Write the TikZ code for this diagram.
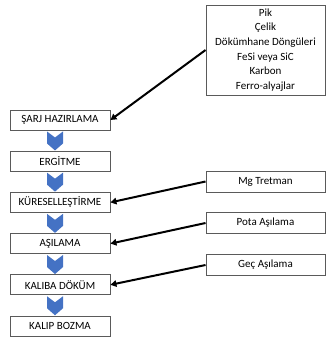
\documentclass[tikz,border=0pt]{standalone}
\usepackage{fontspec}
\setmainfont{Carlito}
\usetikzlibrary{arrows.meta,calc}
\definecolor{chevblue}{HTML}{4472C4}
\definecolor{boxline}{HTML}{5A5A5A}
\begin{document}
\begin{tikzpicture}[x=1pt,y=-1pt,
  stepbox/.style={draw=boxline, line width=0.9pt, minimum width=100pt, minimum height=20pt, inner sep=0pt, font=\fontsize{11}{12}\selectfont},
  inbox/.style={draw=boxline, line width=0.9pt, minimum width=119pt, minimum height=21pt, inner sep=0pt, font=\fontsize{11}{12}\selectfont},
  feed/.style={draw=black, line width=2pt, -{Triangle[length=6pt,width=6.5pt]}},
  chev/.pic={\fill[chevblue] (-8,0) -- (0,6) -- (8,0) -- (8,12) -- (0,19) -- (-8,12) -- cycle;}
]
\useasboundingbox (0,0) rectangle (326,338);
% process steps
\node[stepbox] (s1) at (60,120) {ŞARJ HAZIRLAMA};
\node[stepbox] (s2) at (60,161.2) {ERGİTME};
\node[stepbox] (s3) at (60,202.4) {KÜRESELLEŞTİRME};
\node[stepbox] (s4) at (60,243.6) {AŞILAMA};
\node[stepbox] (s5) at (60,284.8) {KALIBA DÖKÜM};
\node[stepbox] (s6) at (60,326) {KALIP BOZMA};
% chevrons
\foreach \a in {s1,s2,s3,s4,s5}{
  \path ($(\a.south)+(-5,1)$) pic {chev};
}
% inputs
\node[inbox, minimum height=90pt, align=center, font=\fontsize{11}{14.6}\selectfont] (in1) at (265.5,50)
  {Pik\\Çelik\\Dökümhane Döngüleri\\FeSi veya SiC\\Karbon\\Ferro-alyajlar};
\node[inbox] (in2) at (265.5,181.5) {Mg Tretman};
\node[inbox] (in3) at (265.5,223) {Pota Aşılama};
\node[inbox] (in4) at (265.5,265) {Geç Aşılama};
% feed arrows
\draw[feed] (in1.west) -- (s1.east);
\draw[feed] (in2.west) -- (s3.east);
\draw[feed] (in3.west) -- (s4.east);
\draw[feed] (in4.west) -- (s5.east);
\end{tikzpicture}
\end{document}
